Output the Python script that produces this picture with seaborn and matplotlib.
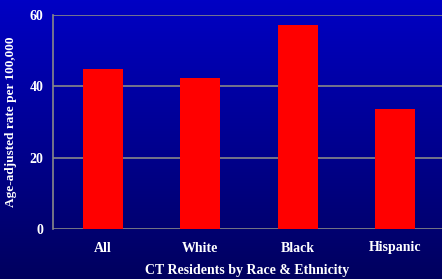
import numpy as np
import pandas as pd
import matplotlib
matplotlib.use("Agg")
import matplotlib.pyplot as plt
from matplotlib.colors import LinearSegmentedColormap
import seaborn as sns

# values
groups = ["All", "White", "Black", "Hispanic"]
rates = [44.8, 42.3, 57.1, 33.6]
yticks = [0, 20, 40, 60]

df = pd.DataFrame({"group": groups, "rate": rates})

sns.set_style("white")
plt.rcParams["font.family"] = ["Liberation Serif", "DejaVu Serif"]
plt.rcParams["font.weight"] = "bold"

fig = plt.figure(figsize=(4.42, 2.79), dpi=100)

# gradient background over the whole figure, bright blue at top
bg = fig.add_axes([0, 0, 1, 1], zorder=-10)
grad = np.linspace(0, 1, 256).reshape(-1, 1)
cmap = LinearSegmentedColormap.from_list("bg", ["#00005e", "#0000c4"])
bg.imshow(grad, aspect="auto", cmap=cmap, extent=[0, 1, 0, 1], origin="lower")
bg.axis("off")

ax = fig.add_axes([53 / 442, 1 - 229 / 279, (442 - 53) / 442, 214 / 279])
ax.patch.set_alpha(0)

sns.barplot(data=df, x="group", y="rate", color="#ff0000", width=0.41,
            saturation=1, linewidth=0, edgecolor="none", ax=ax, zorder=3)

ax.set_ylim(0, 60)
ax.set_xlim(-0.51, 3.48)
ax.set_yticks(yticks)
for y in yticks:
    ax.axhline(y, color="#888888", lw=1.2, zorder=1)

for s in ["top", "right", "bottom"]:
    ax.spines[s].set_visible(False)
ax.spines["left"].set_color("#888888")
ax.spines["left"].set_linewidth(1.2)

ax.tick_params(axis="y", colors="#888888", length=4, width=1.2, pad=3,
               labelcolor="white", labelsize=10)
ax.tick_params(axis="x", length=0, pad=9, labelcolor="white", labelsize=10)
for lab in ax.get_xticklabels() + ax.get_yticklabels():
    lab.set_fontweight("bold")

ax.set_xlabel("CT Residents by Race & Ethnicity", color="white",
              fontsize=10, fontweight="bold", labelpad=7)
ax.set_ylabel("Age-adjusted rate per 100,000", color="white",
              fontsize=9.5, fontweight="bold", labelpad=9)

fig.savefig("out.png", dpi=100)
